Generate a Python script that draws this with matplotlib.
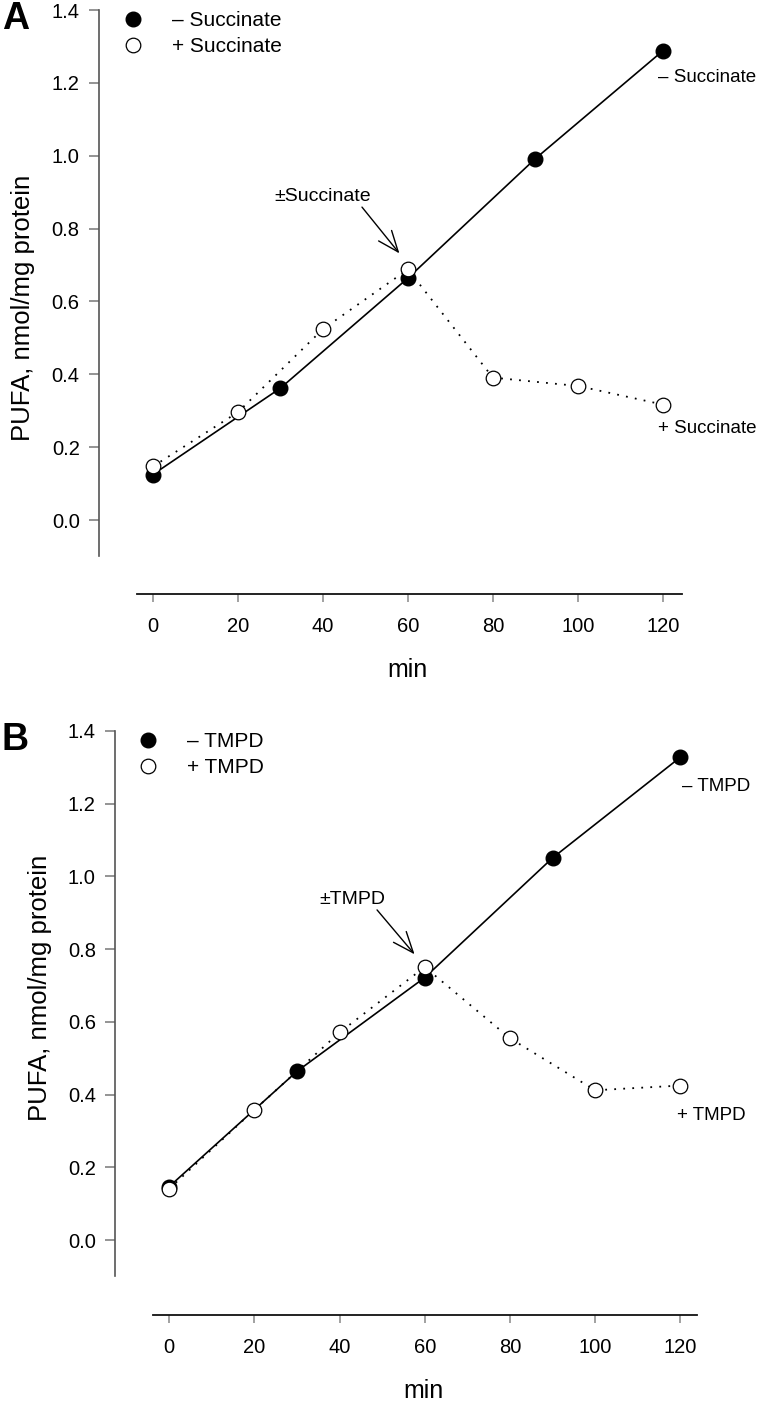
import matplotlib
matplotlib.use("Agg")
import matplotlib.pyplot as plt
from matplotlib.lines import Line2D

plt.rcParams['font.family'] = ['Liberation Sans', 'DejaVu Sans']

# ---- Data ----
x_minus_a = [0, 30, 60, 90, 120]
y_minus_a = [0.125, 0.362, 0.664, 0.992, 1.288]
x_plus_a = [0, 20, 40, 60, 80, 100, 120]
y_plus_a = [0.147, 0.296, 0.524, 0.688, 0.391, 0.368, 0.317]

x_minus_b = [0, 30, 60, 90, 120]
y_minus_b = [0.147, 0.464, 0.722, 1.051, 1.328]
x_plus_b = [0, 20, 40, 60, 80, 100, 120]
y_plus_b = [0.141, 0.358, 0.571, 0.751, 0.555, 0.412, 0.425]

xticks = [0, 20, 40, 60, 80, 100, 120]
yticks = [0.0, 0.2, 0.4, 0.6, 0.8, 1.0, 1.2, 1.4]

W, H = 763, 1404
fig = plt.figure(figsize=(W / 100, H / 100), dpi=100)


def px_axes(left, right, bottom, top):
    return fig.add_axes([left / W, 1 - bottom / H, (right - left) / W, (bottom - top) / H])


def style_axes(ax, xlim, ylim, xbounds, ylab_y):
    ax.set_xlim(*xlim)
    ax.set_ylim(*ylim)
    for s in ('top', 'right'):
        ax.spines[s].set_visible(False)
    ax.spines['left'].set_bounds(-0.1, 1.4)
    ax.spines['bottom'].set_bounds(*xbounds)
    ax.spines['left'].set_color('#555555')
    ax.spines['bottom'].set_color('#111111')
    ax.spines['left'].set_linewidth(1.2)
    ax.spines['bottom'].set_linewidth(1.3)
    ax.set_xticks(xticks)
    ax.set_yticks(yticks)
    ax.set_xticklabels([str(v) for v in xticks])
    ax.set_yticklabels([f"{v:.1f}" for v in yticks])
    ax.tick_params(axis='y', direction='out', length=7.5, width=1.1, color='#777777',
                   labelsize=14.5, pad=6)
    ax.tick_params(axis='x', direction='out', length=5.5, width=1.1, color='#888888',
                   labelsize=14.5, pad=11)
    ax.set_ylabel('PUFA, nmol/mg protein', fontsize=18.5)
    ax.yaxis.set_label_coords(-0.108, ylab_y)
    ax.set_xlabel('min', fontsize=18)
    ax.xaxis.set_label_coords(0.53, -0.13)
    ax.xaxis.label.set_va('center')


def draw_panel(ax, xm, ym, xp, yp, name, letter, letter_y, ann_xy, arr_from, arr_to,
               lab_minus, lab_plus, leg_x):
    ax.plot(xm, ym, color='black', lw=1.2, marker='o', ms=10.5, mfc='black', mec='black',
            zorder=3, clip_on=False)
    ax.plot(xp, yp, color='black', lw=1.3, ls=(0, (1, 4)), marker='o', ms=10.5, mfc='white',
            mec='black', mew=0.9, zorder=4, clip_on=False)
    handles = [
        Line2D([], [], ls='none', marker='o', ms=10.5, mfc='black', mec='black'),
        Line2D([], [], ls='none', marker='o', ms=10.5, mfc='white', mec='black', mew=0.9),
    ]
    ax.legend(handles, ['\u2013 ' + name, '+ ' + name], loc='upper left',
              bbox_to_anchor=(leg_x, 0.998), frameon=False, fontsize=15,
              handlelength=1.0, handletextpad=1.375, labelspacing=0.35,
              borderpad=0, borderaxespad=0)
    ax.text(ann_xy[0], ann_xy[1], '\u00b1' + name, fontsize=14, ha='center', va='center')
    ax.annotate('', xy=arr_to, xytext=arr_from,
                arrowprops=dict(arrowstyle='->,head_length=1.5,head_width=0.6',
                                color='black', lw=1.0, shrinkA=0, shrinkB=0))
    ax.text(lab_minus[0], lab_minus[1], '\u2013 ' + name, fontsize=13.5, ha='left', va='center')
    ax.text(lab_plus[0], lab_plus[1], '+ ' + name, fontsize=13.5, ha='left', va='center')
    fig.text(2 / W, 1 - letter_y / H, letter, fontsize=27, fontweight='bold',
             ha='left', va='baseline')


# Panel A
axA = px_axes(98.5, 682, 594, 10)
style_axes(axA, (-12.8, 124.5), (-0.203, 1.4), (-3.8, 124.5), 0.49)
draw_panel(axA, x_minus_a, y_minus_a, x_plus_a, y_plus_a, 'Succinate', 'A', 29,
           (40, 0.887), (49.2, 0.859), (58, 0.732),
           (118.8, 1.215), (118.8, 0.25), 0.0413)

# Panel B
axB = px_axes(114.6, 697, 1315, 731)
style_axes(axB, (-12.8, 123.9), (-0.206, 1.4), (-3.85, 123.9), 0.56)
draw_panel(axB, x_minus_b, y_minus_b, x_plus_b, y_plus_b, 'TMPD', 'B', 750,
           (43, 0.936), (48.8, 0.908), (57.6, 0.786),
           (120.4, 1.246), (119.2, 0.344), 0.0395)

fig.savefig('out.png', dpi=100)
